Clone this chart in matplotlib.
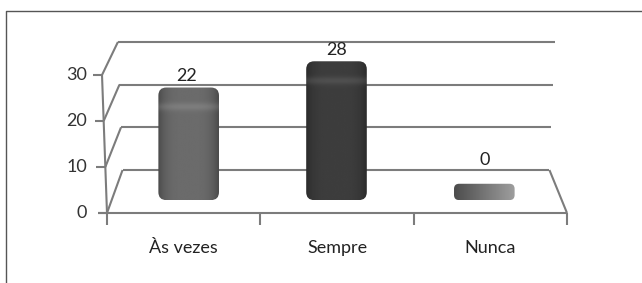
import matplotlib
matplotlib.use("Agg")
import matplotlib.pyplot as plt
import numpy as np
from matplotlib.patches import FancyBboxPatch

categories = ["Às vezes", "Sempre", "Nunca"]
values = [22, 28, 0]
y_ticks = [0, 10, 20, 30]

plt.rcParams['font.family'] = ['Lato', 'DejaVu Sans']

W, H, DPI = 642, 283, 100
fig = plt.figure(figsize=(W / DPI, H / DPI), dpi=DPI)
ax = fig.add_axes([0, 0, 1, 1])
ax.set_axis_off()

# front plane: x in category units, y in value units
XLIM = (-0.6978, 3.4891)
YLIM = (-15.217, 46.304)
PX_X = W / (XLIM[1] - XLIM[0])   # pixels per category unit
PX_Y = H / (YLIM[1] - YLIM[0])   # pixels per value unit

# simple perspective towards a vanishing point above the chart
VX, VV = 1.409, 129.8
SHRINK, LEAN = 0.072, 0.00077


def proj(x, v, d):
    s = 1 - SHRINK * d
    return VX + s * (x - VX) * (1 + LEAN * v), VV + s * (v - VV)


line_kw = dict(color='#7c7c7c', lw=1.5, solid_capstyle='butt', zorder=1)
n = len(categories)
top = y_ticks[-1]

# back wall gridlines and left wall
for t in y_ticks:
    a, b = proj(0, t, 1), proj(n, t, 1)
    ax.plot([a[0], b[0]], [a[1], b[1]], **line_kw)
    f = proj(0, t, 0)
    ax.plot([f[0], a[0]], [f[1], a[1]], **line_kw)
    ax.plot([f[0] - 9 / PX_X, f[0]], [f[1], f[1]], **line_kw)
    ax.text(proj(0, 0, 0)[0] - 20 / PX_X, f[1], str(t), ha='right', va='center',
            fontsize=13, color='#333333')

# front value axis
p0, p1 = proj(0, 0, 0), proj(0, top, 0)
ax.plot([p0[0], p1[0]], [p0[1], p1[1]], **line_kw)

# floor
fl, fr = proj(0, 0, 0), proj(n, 0, 0)
br = proj(n, 0, 1)
ax.plot([fl[0] - 9 / PX_X, fr[0]], [fl[1], fr[1]], **line_kw)
ax.plot([br[0], fr[0]], [br[1], fr[1]], **line_kw)
for i in range(n + 1):
    p = proj(i, 0, 0)
    ax.plot([p[0], p[0]], [p[1], p[1] - 12 / PX_Y], **line_kw)

# bars
bar_base = [0.42, 0.24, 0.45]
bar_edge = [0.29, 0.17, 0.32]
half_w = 0.205
aspect = PX_X / PX_Y
for i, (cat, v) in enumerate(zip(categories, values)):
    xc = i + 0.5
    x0 = proj(xc - half_w, 0, 0.5)[0]
    x1 = proj(xc + half_w, 0, 0.5)[0]
    y0 = proj(xc, 0, 0.30)[1]
    y1 = proj(xc, v, 0.68)[1]
    h_px = (y1 - y0) * PX_Y
    r_px = min(8, h_px / 3.2)
    patch = FancyBboxPatch((x0, y0), x1 - x0, y1 - y0,
                           boxstyle="round,pad=0,rounding_size=%f" % (r_px / PX_X),
                           mutation_aspect=aspect, facecolor='none',
                           edgecolor='none', zorder=2)
    ax.add_patch(patch)

    nx = 80
    ny = max(int(h_px), 4)
    u = np.linspace(-1, 1, nx)
    if v == 0:
        row = 0.30 + 0.32 * (u + 1) / 2
    else:
        row = bar_edge[i] + (bar_base[i] - bar_edge[i]) * (1 - u ** 4)
    img = np.tile(row, (ny, 1))
    if v != 0:
        rows = np.arange(ny)
        band = np.exp(-((rows - 19) / 4.0) ** 2) * 0.07
        img = img + band[:, None]
    im = ax.imshow(np.clip(img, 0, 1), cmap='gray', vmin=0, vmax=1,
                   extent=[x0, x1, y0, y1], origin='upper', aspect='auto',
                   interpolation='bilinear', zorder=2)
    im.set_clip_path(patch)

    # value label
    lx = proj(xc, v, 0.5)[0]
    ly = proj(xc, v, 1)[1]
    dy = 7 if v == 0 else 0
    ax.annotate(str(v), (lx, ly), xytext=(0, dy), textcoords='offset points',
                ha='center', va='center', fontsize=13, color='#222222', zorder=3)

    # category label
    cx = proj(xc, 0, 0)[0]
    ax.text(cx, -35 / PX_Y, cat, ha='center', va='center', fontsize=13,
            color='#222222')

# outer frame
ax.plot([6 / W, 6 / W, 1], [0, 1 - 10.5 / H, 1 - 10.5 / H], transform=ax.transAxes,
        color='#555555', lw=1.0, clip_on=False)

ax.set_xlim(*XLIM)
ax.set_ylim(*YLIM)

fig.savefig("out.png", dpi=DPI)
